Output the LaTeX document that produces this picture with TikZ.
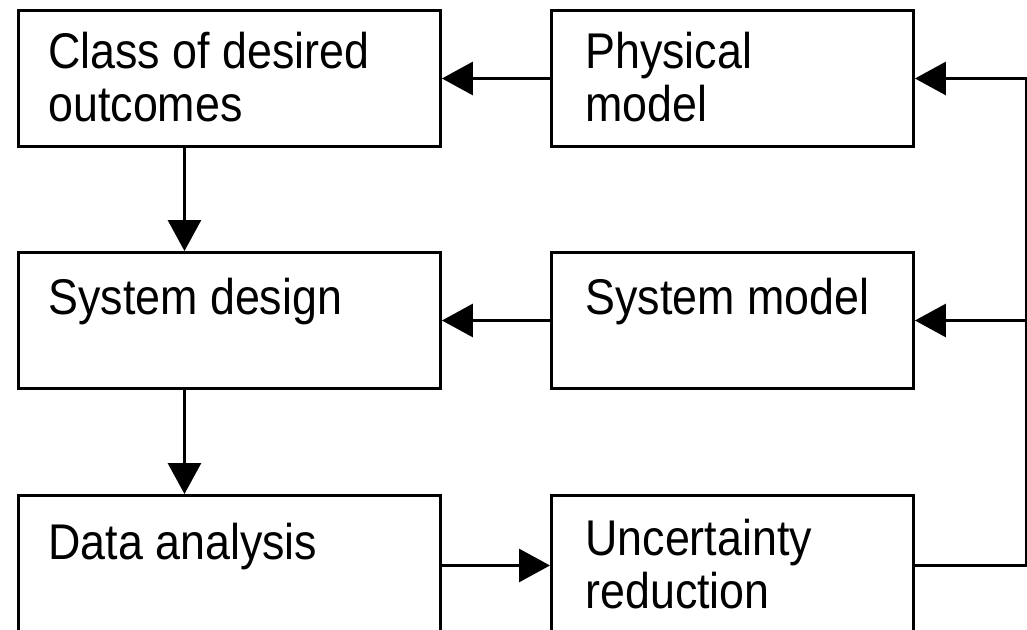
\documentclass[tikz,border=0pt]{standalone}
\usepackage{fontspec}
\setmainfont{Liberation Sans}
\usetikzlibrary{arrows.meta}
\begin{document}
\begin{tikzpicture}[x=0.02cm, y=-0.02cm,
    blk/.style={draw, line width=0.06cm, anchor=north west, minimum height=2.72cm, inner sep=0pt},
    wide/.style={blk, minimum width=8.44cm},
    narrow/.style={blk, minimum width=7.24cm},
    lbl/.style={anchor=north west, inner sep=0pt, align=left, yscale=1.12, font=\fontsize{25.5}{26.9}\selectfont},
    arr/.style={line width=0.06cm, -{Triangle[length=0.62cm, width=0.66cm]}}]
    \useasboundingbox (0,0) rectangle (1027,629);
    % boxes
    \node[wide] (cdo) at (17,9) {};
    \node[narrow] (phy) at (550,9) {};
    \node[wide] (sdes) at (17,251) {};
    \node[narrow] (smod) at (550,251) {};
    \node[wide, minimum height=2.8cm] (dat) at (17,494) {};
    \node[narrow, minimum height=2.8cm] (unc) at (550,494) {};
    % texts
    \node[lbl] (cdo-t) at ([xshift=0.62cm, yshift=-0.46cm]cdo.north west) {Class of desired\\outcomes};
    \node[lbl] (phy-t) at ([xshift=0.7cm, yshift=-0.46cm]phy.north west) {Physical\\model};
    \node[lbl] (sdes-t) at ([xshift=0.62cm, yshift=-0.54cm]sdes.north west) {System design};
    \node[lbl] (smod-t) at ([xshift=0.7cm, yshift=-0.54cm]smod.north west) {System model};
    \node[lbl] (dat-t) at ([xshift=0.62cm, yshift=-0.58cm]dat.north west) {Data analysis};
    \node[lbl] (unc-t) at ([xshift=0.7cm, yshift=-0.5cm]unc.north west) {Uncertainty\\reduction};
    % arrows
    \draw[arr] (phy) -- (cdo);
    \draw[arr] (smod) -- (sdes);
    \draw[arr] (dat) -- (unc);
    \draw[arr] ([xshift=-0.9cm]cdo.south) -- ([xshift=-0.9cm]sdes.north);
    \draw[arr] ([xshift=-0.9cm]sdes.south) -- ([xshift=-0.9cm]dat.north);
    % feedback
    \coordinate (fb) at ([xshift=2.24cm]phy.east);
    \draw[line width=0.06cm] (unc.east) -| (fb);
    \draw[arr] (fb) -- (phy.east);
    \draw[arr] (fb |- smod.east) -- (smod.east);
\end{tikzpicture}
\end{document}
